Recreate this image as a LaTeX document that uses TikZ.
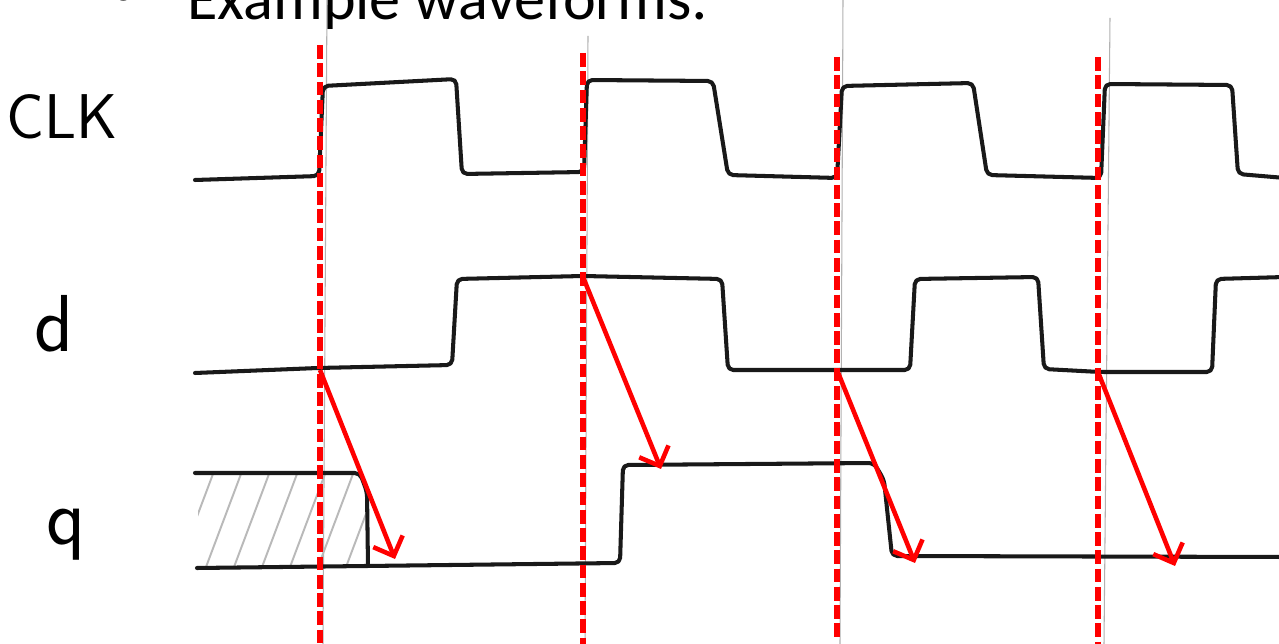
\documentclass[tikz,border=0pt]{standalone}
\usepackage{fontspec}
\setmainfont{Carlito}
\usetikzlibrary{arrows.meta}
\tikzset{
  wave/.style={line width=2.3pt, black!90, rounded corners=3pt, line cap=round, line join=round},
  guide/.style={line width=0.6pt, gray!60},
  reddash/.style={line width=3pt, red, dash pattern=on 7.8pt off 2.6pt},
  redarrow/.style={line width=2.6pt, red, -{Straight Barb[length=9pt,width=18pt]}},
  hatch/.style={line width=1.1pt, gray!55},
  siglabel/.style={font=\sffamily\fontsize{36}{36}\selectfont, inner sep=0pt, anchor=base},
  letterlabel/.style={font=\sffamily\fontsize{46}{46}\selectfont, inner sep=0pt, anchor=base}
}
\begin{document}
\begin{tikzpicture}[x=0.02cm,y=-0.02cm]
\useasboundingbox (0,0) rectangle (1279,644);
\clip (0,0) rectangle (1279,644);
\fill[white] (0,0) rectangle (1279,644);

% title (cut off at the top)
\node[inner sep=0pt, anchor=base, font=\fontsize{35}{35}\selectfont] (bullet) at (124,8) {•};
\node[inner sep=0pt, anchor=base west, font=\fontsize{35.4}{35}\selectfont] (title) at (187,20) {Example waveforms:};

% pencil guide lines
\draw[guide] (327,0) -- (323,644);
\draw[guide] (588,36) -- (585,644);
\draw[guide] (843,0) -- (840,644);
\draw[guide] (1110,18) -- (1104,644);

% labels
\node[siglabel] (clk) at (62,139) {CLK};
\node[letterlabel] (d) at (54,352) {d};
\node[letterlabel] (q) at (66,545) {q};

% hatched unknown region of q
\begin{scope}
  \clip (198,474) rectangle (366,567);
  \foreach \k in {0,...,8} {
    \draw[hatch] ({150+28*\k},567) -- ({185+28*\k},474);
  }
\end{scope}

% waveforms
\draw[wave] (195,180) -- (319,176) -- (323,86) -- (456,79) -- (462,174) -- (584,172) -- (587,80)
  -- (713,81) -- (728,175) -- (837,178) -- (842,86) -- (973,83) -- (987,175) -- (1101,178)
  -- (1105,84) -- (1232,85) -- (1238,174) -- (1285,178);
\draw[wave] (195,373) -- (318,368) -- (452,365) -- (457,279) -- (583,276) -- (722,279)
  -- (728,370) -- (836,370) -- (910,370) -- (915,279) -- (1038,277) -- (1044,369)
  -- (1100,372) -- (1212,372) -- (1216,279) -- (1285,277);
\draw[wave] (195,473) -- (360,473) -- (367,492) -- (368,566);
\draw[wave] (197,568) -- (620,563) -- (623,465) -- (874,463) -- (884,480) -- (892,556) -- (1285,557);

% clock edges
\draw[reddash] (320,45) -- (320,650);
\draw[reddash] (583,53) -- (583,650);
\draw[reddash] (837,57) -- (837,637);
\draw[reddash] (1098,57) -- (1098,650);

% causal arrows
\coordinate (s1) at (320,370);  \coordinate (e1) at (395,559);
\coordinate (s2) at (583,277);  \coordinate (e2) at (661,469);
\coordinate (s3) at (837,370);  \coordinate (e3) at (915,563);
\coordinate (s4) at (1098,372); \coordinate (e4) at (1175,566);
\draw[redarrow] (s1) -- (e1);
\draw[redarrow] (s2) -- (e2);
\draw[redarrow] (s3) -- (e3);
\draw[redarrow] (s4) -- (e4);
\end{tikzpicture}
\end{document}
